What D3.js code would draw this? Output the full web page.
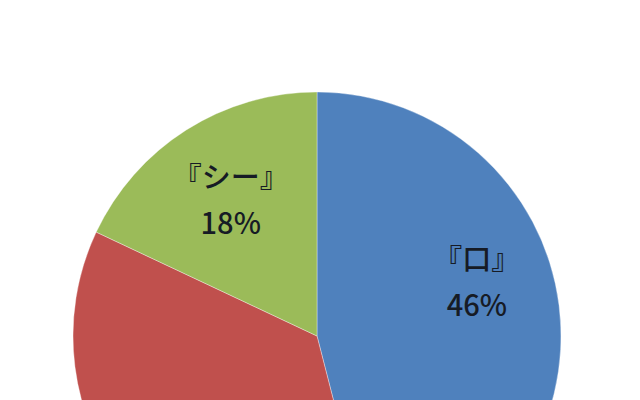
<!DOCTYPE html>
<html>
<head>
<meta charset="utf-8">
<script src="https://cdn.jsdelivr.net/npm/d3@7"></script>
<style>
  body { margin: 0; background: #fff; overflow: hidden; }
  svg { display: block; }
</style>
</head>
<body>
<div id="chart"></div>
<script>
const svgWidth = 640;
const svgHeight = 400;

// data
const categories = ['『口』', 'その他', '『シー』'];
const shares = [46, 36, 18];
const colors = ['#4f81bd', '#c0504d', '#9bbb59'];

const center = { x: 317, y: 336 };
const radius = 244;

const svg = d3.select('#chart')
    .append('svg')
    .attr('width', svgWidth)
    .attr('height', svgHeight);

const pie = d3.pie().sort(null).value(d => d.value);
const arcs = pie(categories.map((c, i) => ({ name: c, value: shares[i], color: colors[i] })));

const arc = d3.arc().innerRadius(0).outerRadius(radius);
const labelArc = d3.arc().innerRadius(radius * 0.66).outerRadius(radius * 0.66);

const g = svg.append('g')
    .attr('transform', `translate(${center.x},${center.y})`);

g.selectAll('.slice')
    .data(arcs)
    .join('path')
    .classed('slice', true)
    .attr('d', arc)
    .attr('fill', d => d.data.color)
    .attr('stroke', '#ffffff')
    .attr('stroke-opacity', 0.35)
    .attr('stroke-width', 1);

// excel "best fit" pulls the big slice's label up a bit
const nudge = d => d.index === 0 ? -34 : 0;
const labelPos = d => {
    const [x, y] = labelArc.centroid(d);
    return [x, y + nudge(d)];
};

// the chart is cropped at the bottom, only labels inside the frame show
const visible = arcs.filter(d => center.y + labelPos(d)[1] < svgHeight - 40);

const labels = g.selectAll('.label')
    .data(visible)
    .join('text')
    .classed('label', true)
    .attr('transform', d => `translate(${labelPos(d)})`)
    .attr('text-anchor', 'middle')
    .attr('font-family', '"Noto Sans CJK JP", "Noto Sans", sans-serif')
    .attr('font-size', 29)
    .attr('font-weight', 500)
    .attr('fill', '#161b25');

labels.append('tspan')
    .attr('x', 0)
    .attr('dy', '-0.42em')
    .text(d => d.data.name);

labels.append('tspan')
    .attr('x', 0)
    .attr('dy', '1.6em')
    .text(d => d.data.value + '%');
</script>
</body>
</html>
